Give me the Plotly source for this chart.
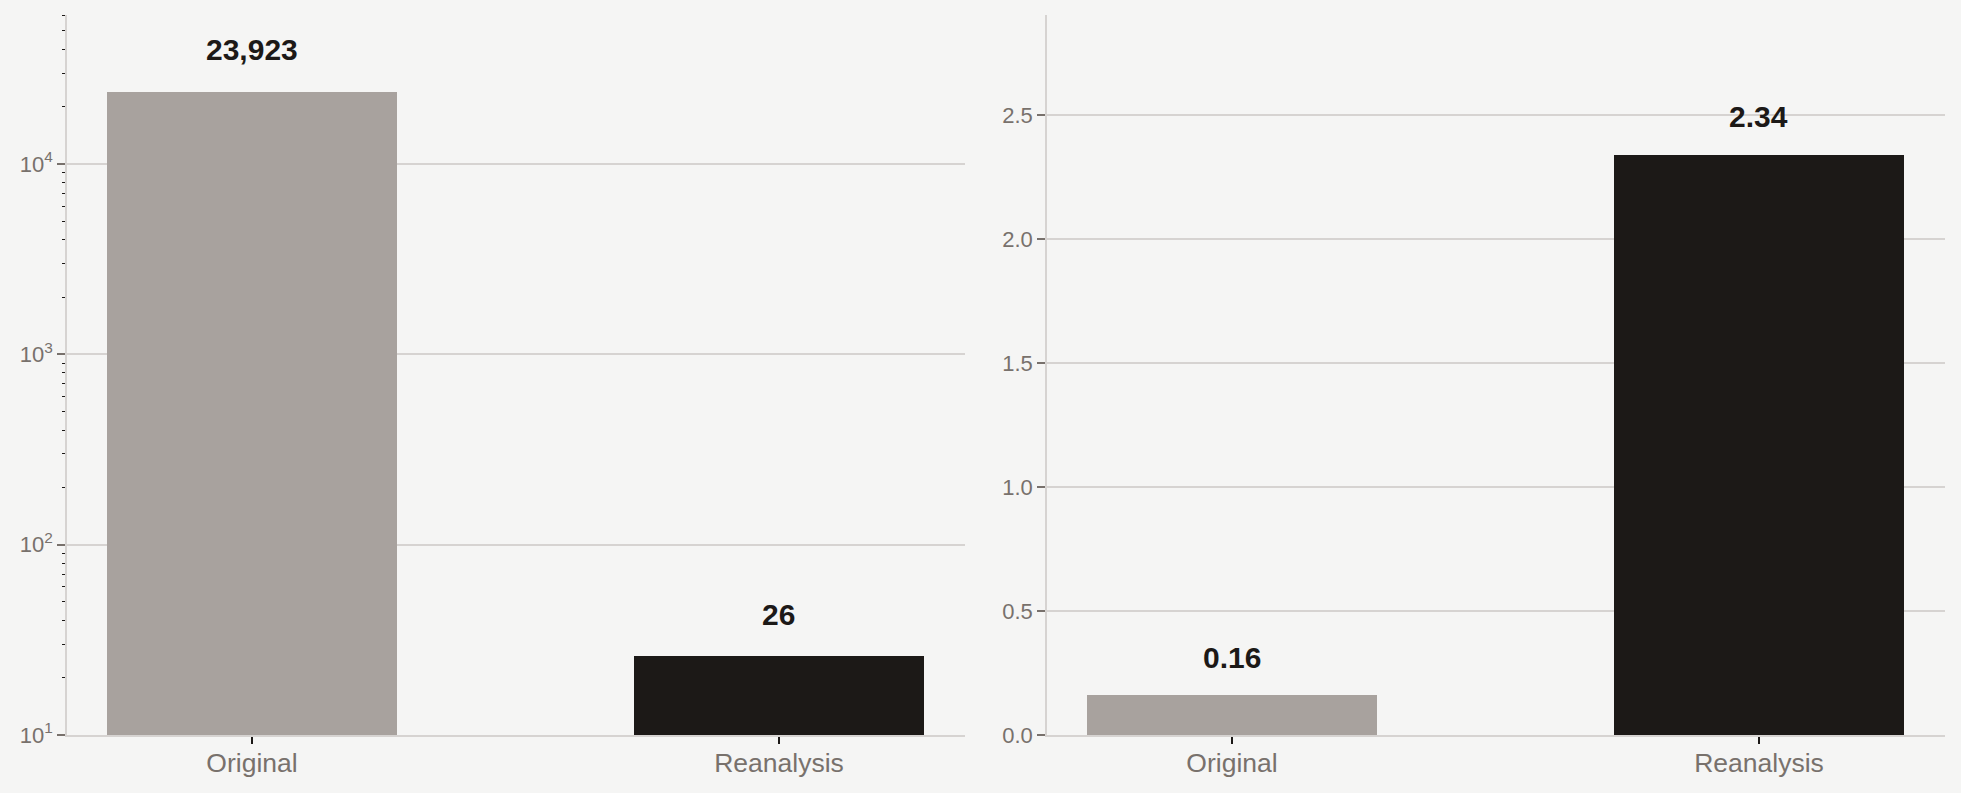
import math
import plotly.graph_objects as go

categories = ["Original", "Reanalysis"]
left_values = [23923, 26]
left_labels = ["23,923", "26"]
right_values = [0.16, 2.34]
right_labels = ["0.16", "2.34"]
bar_colors = ["#a8a29e", "#1c1917"]
log_tickvals = [10, 100, 1000, 10000]
log_ticktext = ["10<sup>1</sup>", "10<sup>2</sup>", "10<sup>3</sup>", "10<sup>4</sup>"]
log_minor = [d * m for m in (10, 100, 1000, 10000) for d in range(2, 10)]

W, H = 1961, 793
FONT = "Liberation Sans, Arial, Helvetica, sans-serif"
GRID = "#d6d3d1"
TICKTXT = "#78716c"
INK = "#1c1917"
BG = "#f5f5f4"

fig = go.Figure()
fig.add_trace(go.Bar(x=categories, y=left_values, marker=dict(color=bar_colors, line=dict(width=0)),
                     width=0.55, xaxis="x", yaxis="y", showlegend=False, hoverinfo="skip",
                     text=left_labels, textposition="none"))
fig.add_trace(go.Bar(x=categories, y=right_values, marker=dict(color=bar_colors, line=dict(width=0)),
                     width=0.55, xaxis="x2", yaxis="y2", showlegend=False, hoverinfo="skip",
                     text=right_labels, textposition="none"))

annotations = []
for c, v, t in zip(categories, left_values, left_labels):
    annotations.append(dict(x=c, y=math.log10(v), xref="x", yref="y", text=t, showarrow=False,
                            yanchor="middle", yshift=42,
                            font=dict(family=FONT, size=30, color=INK, weight="bold")))
for c, v, t in zip(categories, right_values, right_labels):
    annotations.append(dict(x=c, y=v, xref="x2", yref="y2", text=t, showarrow=False,
                            yanchor="middle", yshift=38,
                            font=dict(family=FONT, size=30, color=INK, weight="bold")))

ydom = [(H - 735) / H, (H - 15) / H]
xcommon = dict(
    type="category", range=[-0.351, 1.353], showline=True, linecolor=GRID, linewidth=1.5,
    ticks="outside", ticklen=7, tickwidth=1.5, tickcolor=INK, showgrid=False, zeroline=False,
    tickfont=dict(family=FONT, size=26.5, color=TICKTXT), fixedrange=True, automargin=False,
    ticklabelstandoff=-4,
)
fig.update_layout(
    width=W, height=H,
    margin=dict(l=0, r=0, t=0, b=0),
    paper_bgcolor=BG, plot_bgcolor=BG,
    bargap=0,
    xaxis=dict(domain=[67 / W, 965 / W], anchor="y", **xcommon),
    xaxis2=dict(domain=[1047 / W, 1945 / W], anchor="y2", **xcommon),
    yaxis=dict(
        domain=ydom, anchor="x", type="log", range=[1, 4.783], automargin=False,
        tickmode="array", tickvals=log_tickvals, ticktext=log_ticktext,
        showline=True, linecolor=GRID, linewidth=1.5,
        showgrid=True, gridcolor=GRID, gridwidth=1.5, zeroline=False,
        ticks="outside", ticklen=8, tickwidth=1.5, tickcolor=TICKTXT,
        tickfont=dict(family=FONT, size=22, color=TICKTXT),
        minor=dict(ticks="outside", ticklen=3, tickwidth=1, tickcolor=INK,
                   tickmode="array", tickvals=log_minor, showgrid=False),
        fixedrange=True,
    ),
    yaxis2=dict(
        domain=ydom, anchor="x2", range=[0, 2.903], dtick=0.5, tickformat=".1f", automargin=False,
        showline=True, linecolor=GRID, linewidth=1.5,
        showgrid=True, gridcolor=GRID, gridwidth=1.5, zeroline=False,
        ticks="outside", ticklen=8, tickwidth=1.5, tickcolor=TICKTXT,
        tickfont=dict(family=FONT, size=22, color=TICKTXT),
        fixedrange=True,
    ),
    annotations=annotations,
)

page_js = (
    "var s=document.createElement('style');"
    "s.textContent='html,body{margin:0;padding:0;height:793px;overflow:hidden;"
    "background:#f5f5f4;}';"
    "document.head.appendChild(s);"
)

fig.write_html("out.html", config={"displayModeBar": False}, post_script=page_js)
